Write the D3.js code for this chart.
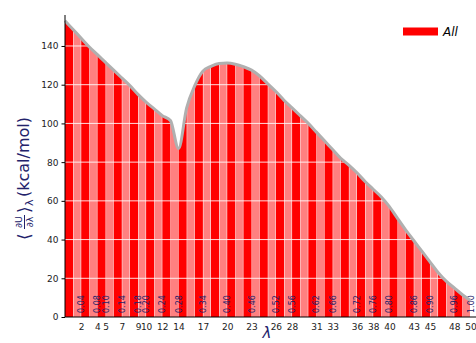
<!DOCTYPE html>
<html>
<head>
<meta charset="utf-8">
<script src="https://cdn.jsdelivr.net/npm/d3@7"></script>
<style>
  html, body { margin: 0; padding: 0; background: #fff; }
  svg { display: block; font-family: "DejaVu Sans", sans-serif; }
</style>
</head>
<body>
<svg id="chart" width="476" height="343"></svg>
<script>
// Lambda states (index 0..50) and the averaged dU/dlambda at each state (kcal/mol)
const lambdas = [0.00,0.02,0.04,0.06,0.08,0.10,0.12,0.14,0.16,0.18,
                 0.20,0.22,0.24,0.26,0.28,0.30,0.32,0.34,0.36,0.38,
                 0.40,0.42,0.44,0.46,0.48,0.50,0.52,0.54,0.56,0.58,
                 0.60,0.62,0.64,0.66,0.68,0.70,0.72,0.74,0.76,0.78,
                 0.80,0.82,0.84,0.86,0.88,0.90,0.92,0.94,0.96,0.98,1.00];
const dudl = [153.0,148.5,144.0,139.5,135.5,131.5,127.5,123.5,119.5,115.0,
              111.0,107.5,104.0,101.5,87.0,108.0,119.5,127.0,129.5,131.0,
              131.2,130.6,129.3,127.5,124.5,120.5,116.5,112.0,108.0,104.0,
              100.0,95.5,91.0,86.5,82.0,78.5,74.5,70.0,66.0,62.0,
              57.0,51.0,45.0,39.5,34.0,28.5,23.0,18.5,15.0,11.5,8.5];
// State indices that get a tick label (and a lambda annotation)
const labelledStates = [2,4,5,7,9,10,12,14,17,20,23,26,28,31,33,36,38,40,43,45,48,50];
const yTicks = [0,20,40,60,80,100,120,140];
const seriesName = "All";

const navy = "#22226b";
const svg = d3.select("#chart");
const x = d3.scaleLinear().domain([0, 50]).range([65, 470.5]);
const y = d3.scaleLinear().domain([0, 156]).range([317, 15]);

const pts = dudl.map((v, i) => [i, v]);
const curve = d3.curveMonotoneX;
const area = d3.area().x(d => x(d[0])).y0(y(0)).y1(d => y(d[1])).curve(curve);
const line = d3.line().x(d => x(d[0])).y(d => y(d[1])).curve(curve);

svg.append("clipPath").attr("id", "under")
  .append("path").attr("d", area(pts));

// alternating stripes, one per lambda interval
const stripes = svg.append("g").attr("clip-path", "url(#under)");
stripes.selectAll("rect").data(d3.range(lambdas.length - 1)).join("rect")
  .attr("x", i => x(i) + (i % 2 ? 0.5 : 0))
  .attr("width", i => x(i + 1) - x(i) - (i % 2 ? 1 : -0.02))
  .attr("y", y(160)).attr("height", y(0) - y(160))
  .attr("fill", i => i % 2 ? "#ff8080" : "#ff0000");

// horizontal grid
svg.append("g").selectAll("line").data(yTicks.filter(t => t > 0)).join("line")
  .attr("x1", x(0)).attr("x2", x(50))
  .attr("y1", d => y(d)).attr("y2", d => y(d))
  .attr("stroke", "#fff").attr("stroke-width", 1).attr("opacity", 0.85);

// lambda annotations inside the bars
svg.append("g").selectAll("text").data(labelledStates).join("text")
  .attr("transform", i => `translate(${x(i) + 3},313) rotate(-90)`)
  .attr("font-size", 8).attr("fill", navy)
  .text(i => lambdas[i].toFixed(2));

// curve
svg.append("path").attr("d", line(pts))
  .attr("fill", "none").attr("stroke", "#b0b0b0").attr("stroke-width", 3)
  .attr("stroke-linejoin", "round");

// axes
const yAxis = d3.axisLeft(y).tickValues(yTicks).tickSize(3.5).tickPadding(3);
const gy = svg.append("g").attr("transform", `translate(${x(0)},0)`).call(yAxis);
gy.select(".domain").attr("d", `M0,${y(0)}V15`).attr("stroke", "#000");
gy.selectAll("text").attr("font-size", 9).attr("font-family", "DejaVu Sans").attr("fill", "#222");

const xAxis = d3.axisBottom(x).tickValues(labelledStates).tickSize(0).tickPadding(7);
const gx = svg.append("g").attr("transform", `translate(0,${y(0)})`).call(xAxis);
gx.select(".domain").attr("d", `M${x(0)},0H476`).attr("stroke", "#000").attr("stroke-width", 1.2);
gx.selectAll("text").attr("font-size", 9).attr("font-family", "DejaVu Sans").attr("fill", "#222");

// x label
svg.append("text").attr("x", 267).attr("y", 338).attr("text-anchor", "middle")
  .attr("font-size", 15).attr("font-style", "italic").attr("fill", navy).text("λ");

// y label: <dU/dλ>_λ (kcal/mol)
const yl = svg.append("g").attr("transform", "translate(29,153) rotate(-90)").attr("fill", navy);
yl.append("text").attr("x", -87).attr("y", 1).attr("font-size", 17).text("⟨");
yl.append("text").attr("x", -69).attr("y", -7).attr("text-anchor", "middle").attr("font-size", 9.5).text("∂U");
yl.append("line").attr("x1", -76).attr("x2", -62).attr("y1", -4.5).attr("y2", -4.5)
  .attr("stroke", navy).attr("stroke-width", 1);
yl.append("text").attr("x", -69).attr("y", 4).attr("text-anchor", "middle").attr("font-size", 9.5).text("∂λ");
yl.append("text").attr("x", -60).attr("y", 1).attr("font-size", 17).text("⟩");
yl.append("text").attr("x", -53).attr("y", 4).attr("font-size", 11).text("λ");
yl.append("text").attr("x", -44).attr("y", 0).attr("font-size", 16).text(" (kcal/mol)");

// legend
const lg = svg.append("g");
lg.append("rect").attr("x", 403).attr("y", 27.5).attr("width", 35).attr("height", 8).attr("fill", "#ff0000");
lg.append("text").attr("x", 443).attr("y", 36).attr("font-size", 12).attr("font-style", "italic")
  .attr("fill", "#000").text(seriesName);
</script>
</body>
</html>
